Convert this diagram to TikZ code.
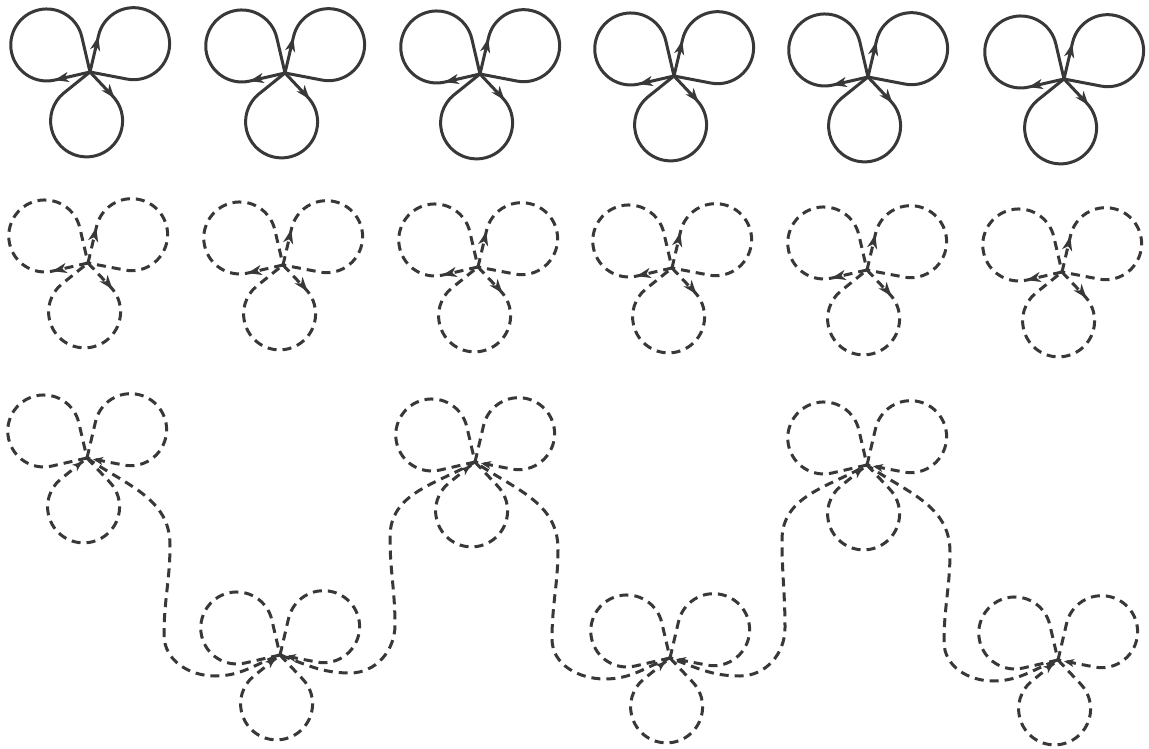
\documentclass[tikz,border=0pt]{standalone}
\usetikzlibrary{arrows.meta,decorations.markings,calc}
\begin{document}
\begin{tikzpicture}[x=1pt,y=1pt,
  ink/.style={draw=black!78, line width=3pt, line join=round},
  solidloop/.style={ink},
  dashloop/.style={ink, dash pattern=on 9pt off 6pt},
  arrowmid/.style={postaction={decorate,decoration={markings,mark=at position 0.15 with {\arrow[black!78,solid]{Stealth[length=14pt,width=10pt,inset=4pt]}}}}},
  arrowend/.style={postaction={decorate,decoration={markings,mark=at position 0.975 with {\arrow[black!78,solid]{Stealth[length=10pt,width=8pt,inset=3pt]}}}}},
]
% one petal: centre, axis angle, distance of circle centre, style
\newcommand\petal[4]{%
  \pgfmathsetmacro\pa{asin(36/#3)}%
  \pgfmathsetmacro\pt{sqrt(#3*#3-36*36)}%
  \draw[#4] (#1) -- ++(#2+\pa:\pt) arc[start angle=#2+90+\pa, end angle=#2-90-\pa, radius=36] -- (#1);
}
\newcommand\trefoil[4]{%
  \petal{#1}{148}{51}{#2}
  \petal{#1}{33}{52}{#3}
  \petal{#1}{-94}{49}{#4}
}
\path[fill=white,use as bounding box] (0,0) rectangle (1149,-749);

% centres, top row
\coordinate (a1) at (90,-72);
\coordinate (a2) at (285,-73);
\coordinate (a3) at (480,-74);
\coordinate (a4) at (674,-76);
\coordinate (a5) at (868,-77);
\coordinate (a6) at (1064,-79);
% middle row
\coordinate (m1) at (88,-263);
\coordinate (m2) at (283,-265);
\coordinate (m3) at (478,-267);
\coordinate (m4) at (672,-268);
\coordinate (m5) at (867,-270);
\coordinate (m6) at (1062,-272);
% bottom row
\coordinate (c1) at (87,-458);
\coordinate (c2) at (280,-655);
\coordinate (c3) at (475,-462);
\coordinate (c4) at (670,-658);
\coordinate (c5) at (867,-465);
\coordinate (c6) at (1058,-660);

\foreach \n in {a1,a2,a3,a4,a5,a6}{
  \trefoil{\n}{solidloop,arrowmid}{solidloop,arrowmid}{solidloop,arrowmid}
}
\foreach \n in {m1,m2,m3,m4,m5,m6}{
  \trefoil{\n}{dashloop,arrowmid}{dashloop,arrowmid}{dashloop,arrowmid}
}
\foreach \n in {c1,c2,c3,c4,c5,c6}{
  \trefoil{\n}{dashloop}{dashloop,arrowend}{dashloop,arrowend}
}

\draw[dashloop]
  (c1) to[out=-35,in=90] ($(c1)+(83,-87)$) to[out=-90,in=90] ($(c1)+(77,-177)$)
       to[out=-90,in=180] ($(c2)+(-65,-21)$) to[out=0,in=200] (c2)
       to[out=-20,in=180] ($(c2)+(70,-18)$) to[out=0,in=-90] ($(c2)+(115,30)$)
       to[out=90,in=-90] ($(c3)+(-85,-75)$) to[out=90,in=-150] (c3)
       to[out=-35,in=90] ($(c3)+(83,-87)$) to[out=-90,in=90] ($(c3)+(77,-177)$)
       to[out=-90,in=180] ($(c4)+(-65,-21)$) to[out=0,in=200] (c4)
       to[out=-20,in=180] ($(c4)+(70,-18)$) to[out=0,in=-90] ($(c4)+(115,30)$)
       to[out=90,in=-90] ($(c5)+(-85,-75)$) to[out=90,in=-150] (c5)
       to[out=-35,in=90] ($(c5)+(83,-87)$) to[out=-90,in=90] ($(c5)+(77,-177)$)
       to[out=-90,in=180] ($(c6)+(-65,-21)$) to[out=0,in=200] (c6);
\end{tikzpicture}
\end{document}
